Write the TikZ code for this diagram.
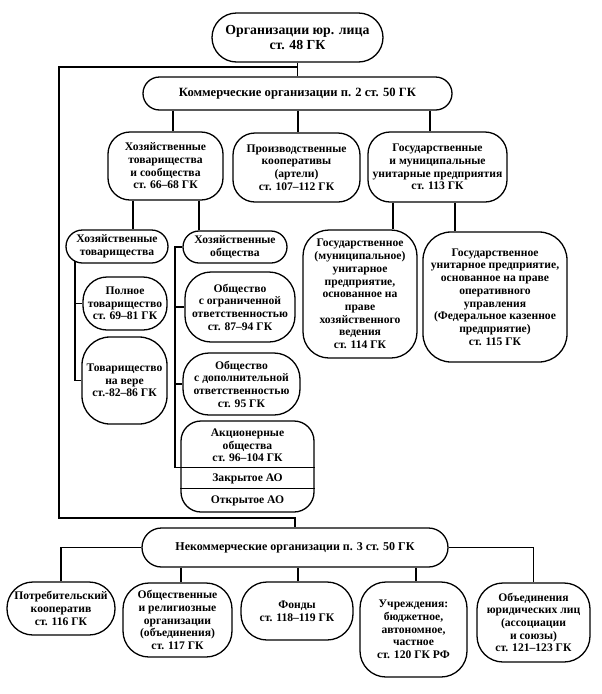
\documentclass[tikz,border=0pt]{standalone}
\usepackage{fontspec}
\setmainfont{Liberation Serif}
\usetikzlibrary{shapes.misc,calc}
\newcommand\fnt{\fontsize{11.6}{12.7}\selectfont\bfseries}
\tikzset{
  every node/.style={font=\fnt, align=center, inner sep=0pt},
  box/.style={draw, line width=1.3pt, rounded corners=#1},
  box/.default=18pt,
  pill/.style={draw, line width=1.3pt, rounded rectangle},
  conn/.style={line width=1.3pt}
}
\begin{document}
\begin{tikzpicture}[x=1pt,y=-1pt]
\useasboundingbox[fill=white] (0,0) rectangle (602,694);

% top levels
\node[pill, minimum width=171pt, minimum height=49pt, font=\fontsize{13.8}{15.5}\selectfont\bfseries] (top) at (297.5,37.5) {Организации юр. лица\\ст. 48 ГК};
\node[pill, minimum width=309pt, minimum height=33pt, font=\fontsize{12.6}{13}\selectfont\bfseries] (komm) at (297.5,93.5) {Коммерческие организации п. 2 ст. 50 ГК};

\node[box=22pt, minimum width=115pt, minimum height=68pt] (hts) at (165.5,166) {Хозяйственные\\товарищества\\и сообщества\\ст. 66–68 ГК};
\node[box=22pt, minimum width=127pt, minimum height=69pt] (prk) at (296.5,167.5) {Производственные\\кооперативы\\(артели)\\ст. 107–112 ГК};
\node[box=22pt, minimum width=139pt, minimum height=70pt] (gmu) at (437.5,167) {Государственные\\и муниципальные\\унитарные предприятия\\ст. 113 ГК};

\node[pill, minimum width=102pt, minimum height=33pt] (htov) at (117,246.5) {Хозяйственные\\товарищества};
\node[pill, minimum width=104pt, minimum height=32pt] (hob) at (235,247) {Хозяйственные\\общества};

\node[box=24pt, minimum width=84pt, minimum height=53pt] (pt) at (125,303.5) {Полное\\товарищество\\ст. 69–81 ГК};
\node[box=28pt, minimum width=85pt, minimum height=87pt] (tv) at (124.5,380.5) {Товарищество\\на вере\\ст.-82–86 ГК};

\node[box=26pt, minimum width=110pt, minimum height=70pt] (ooo) at (240,307) {Общество\\с ограниченной\\ответственностью\\ст. 87–94 ГК};
\node[box=26pt, minimum width=117pt, minimum height=62pt] (odo) at (241.5,384) {Общество\\с дополнительной\\ответственностью\\ст. 95 ГК};

\node[box=20pt, minimum width=133pt, minimum height=91pt] (ao) at (247.5,466.5) {};
\node (aot) at (247.5,445.5) {Акционерные\\общества\\ст. 96–104 ГК};
\coordinate (aod1) at ($(ao.north west)+(0,47)$);
\coordinate (aod1e) at ($(ao.north east)+(0,47)$);
\coordinate (aod2) at ($(ao.north west)+(0,68)$);
\coordinate (aod2e) at ($(ao.north east)+(0,68)$);
\draw[conn] (aod1) -- (aod1e);
\draw[conn] (aod2) -- (aod2e);
\node (zao) at (247.5,478.5) {Закрытое АО};
\node (oao) at (247.5,500.5) {Открытое АО};

\node[box=26pt, minimum width=114pt, minimum height=128pt] (gup1) at (360,294) {Государственное\\(муниципальное)\\унитарное\\предприятие,\\основанное на\\праве\\хозяйственного\\ведения\\ст. 114 ГК};
\node[box=28pt, minimum width=144pt, minimum height=130pt] (gup2) at (495,297) {Государственное\\унитарное предприятие,\\основанное на праве\\оперативного\\управления\\(Федеральное казенное\\предприятие)\\ст. 115 ГК};

% non-commercial
\node[pill, minimum width=306pt, minimum height=39pt, font=\fontsize{12}{13}\selectfont\bfseries] (nekomm) at (295,547.5) {Некоммерческие организации п. 3 ст. 50 ГК};

\node[box=26pt, minimum width=108pt, minimum height=53pt] (potr) at (61,608.5) {Потребительский\\кооператив\\ст. 116 ГК};
\node[box=26pt, minimum width=109pt, minimum height=74pt] (obsh) at (177.5,620) {Общественные\\и религиозные\\организации\\(объединения)\\ст. 117 ГК};
\node[box=26pt, minimum width=112pt, minimum height=58pt] (fond) at (297,611) {Фонды\\ст. 118–119 ГК};
\node[box=26pt, minimum width=107pt, minimum height=95pt] (uchr) at (413.5,629.5) {Учреждения:\\бюджетное,\\автономное,\\частное\\ст. 120 ГК РФ};
\node[box=26pt, minimum width=113pt, minimum height=79pt] (obed) at (533.5,622.5) {Объединения\\юридических лиц\\(ассоциации\\и союзы)\\ст. 121–123 ГК};

% connectors
\coordinate (tl) at (59,67);
\coordinate (bl) at (59,518);
\draw[conn] (top.south) -- (komm.north);
\draw[conn] (top.south |- tl) -- (tl) -- (bl) -| (nekomm.north);

\draw[conn] (komm.south -| 173,0) -- (hts.north -| 173,0);
\draw[conn] (komm.south -| 298,0) -- (prk.north -| 298,0);
\draw[conn] (komm.south -| 430,0) -- (gmu.north -| 430,0);

\draw[conn] (hts.south -| 133,0) -- (htov.north -| 133,0);
\draw[conn] (hts.south -| 199,0) -- (hob.north -| 199,0);

\coordinate (htb) at (75,261);
\draw[conn] (htb) |- (pt.west);
\draw[conn] (htb) |- (tv.west);

\coordinate (hbx) at (175,247);
\draw[conn] (hob.west) -- (hbx) |- (aod1);
\draw[conn] (hbx) |- (ooo.west);
\draw[conn] (hbx) |- (odo.west);

\draw[conn] (gmu.south -| 393,0) -- (gup1.north -| 393,0);
\draw[conn] (gmu.south -| 455,0) -- (gup2.north -| 455,0);

\draw[conn] (nekomm.west) -| (potr.north);
\draw[conn] (nekomm.east) -| (obed.north);
\draw[conn] (nekomm.south -| 181,0) -- (obsh.north -| 181,0);
\draw[conn] (nekomm.south -| 298,0) -- (fond.north -| 298,0);
\draw[conn] (nekomm.south -| 416,0) -- (uchr.north -| 416,0);
\end{tikzpicture}
\end{document}
